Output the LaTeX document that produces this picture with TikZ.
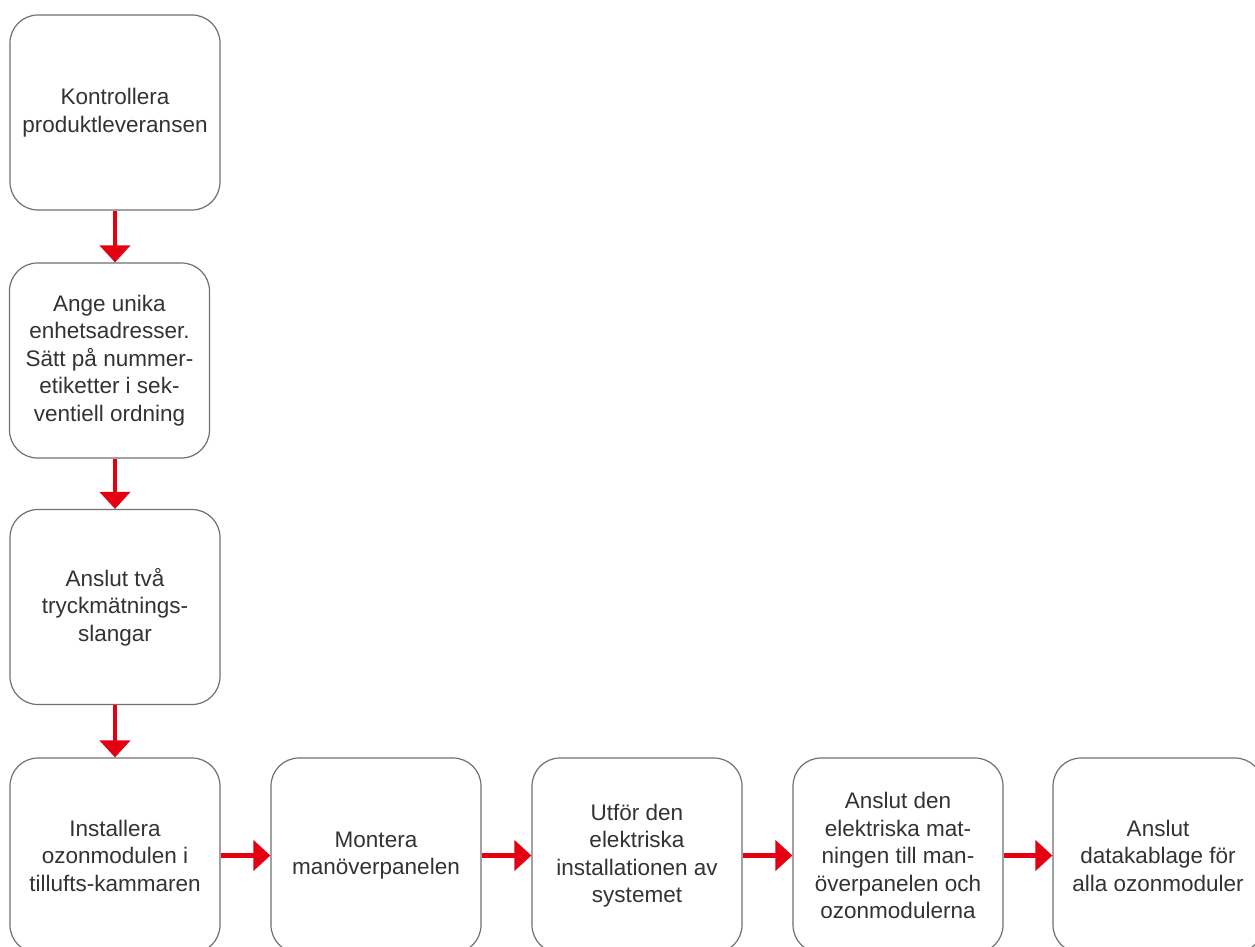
\documentclass[tikz,border=0pt]{standalone}
\usepackage{fontspec}
\setmainfont{Liberation Sans}
\usetikzlibrary{arrows.meta}
\definecolor{arrred}{RGB}{228,0,18}
\definecolor{boxline}{RGB}{112,112,112}
\definecolor{txt}{RGB}{51,51,51}
\begin{document}
\begin{tikzpicture}[x=1pt,y=-1pt,
  stepbox/.style={draw=boxline, line width=1.2pt, rounded corners=28pt, fill=white,
    minimum width=210pt, minimum height=195pt, inner sep=0pt, align=center,
    text=txt, font=\fontsize{22.5}{27.5}\selectfont},
  flow/.style={draw=arrred, line width=4.5pt, -{Triangle[length=17pt,width=30pt]}}]
\useasboundingbox (0,0) rectangle (1255,947);
\clip (0,0) rectangle (1255,947);
\fill[white] (0,0) rectangle (1255,947);
\node[stepbox] (b1) at (115,112.5) {Kontrollera\\produktleveransen};
\node[stepbox, minimum width=200pt] (b2) at (109.5,360.5) {Ange unika\\enhetsadresser.\\Sätt på nummer-\\etiketter i sek-\\ventiell ordning};
\node[stepbox] (b3) at (115,607) {Anslut två\\tryckmätnings-\\slangar};
\node[stepbox] (b4) at (115,855.5) {Installera\\ozonmodulen i\\tillufts-kammaren};
\node[stepbox] (b5) at (376,855.5) {Montera\\manöverpanelen};
\node[stepbox] (b6) at (637,855.5) {Utför den\\elektriska\\installationen av\\systemet};
\node[stepbox] (b7) at (898,855.5) {Anslut den\\elektriska mat-\\ningen till man-\\överpanelen och\\ozonmodulerna};
\node[stepbox] (b8) at (1158,855.5) {Anslut\\datakablage för\\alla ozonmoduler};
\draw[flow] (b1.south) -- (b1.south |- b2.north);
\draw[flow] (b2.south -| b1.south) -- (b3.north);
\draw[flow] (b3.south) -- (b4.north);
\draw[flow] (b4.east) -- (b5.west);
\draw[flow] (b5.east) -- (b6.west);
\draw[flow] (b6.east) -- (b7.west);
\draw[flow] (b7.east) -- (b8.west);
\end{tikzpicture}
\end{document}
